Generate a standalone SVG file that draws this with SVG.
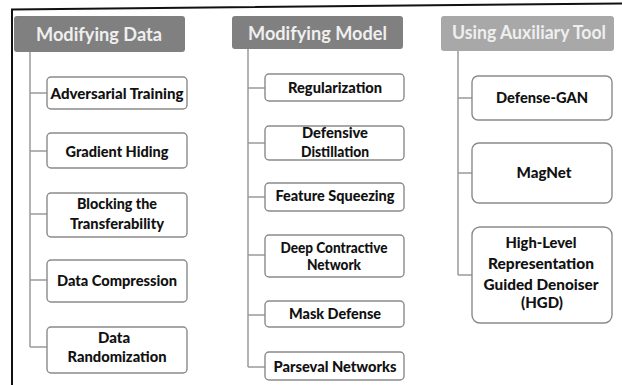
<svg xmlns="http://www.w3.org/2000/svg" width="622" height="385" viewBox="0 0 622 385">
  <style>
    .frame { fill: none; stroke: #111; stroke-width: 2; }
    .head { fill: #808080; }
    .head.light { fill: #a8a8a8; }
    .htxt { font-family: Lato, "Open Sans", "Liberation Sans", sans-serif; font-weight: bold; font-size: 19.5px; fill: #efefef; text-anchor: middle; }
    .box { fill: #ffffff; stroke: #8a8a8a; stroke-width: 1.4; }
    .txt { font-family: Lato, "Open Sans", "Liberation Sans", sans-serif; font-weight: 900; font-size: 15px; fill: #111; text-anchor: middle; }
    .conn { fill: none; stroke: #9a9a9a; stroke-width: 1.5; }
  </style>

  <rect width="622" height="385" fill="#ffffff"/>
  <path class="frame" d="M12 385 L12 9.5 L622 3.5"/>

  <!-- connectors -->
  <g id="connectors">
    <path class="conn" d="M30 52 V347 M30 93 H47 M30 151 H47 M30 214 H47 M30 280 H47 M30 347 H47"/>
    <path class="conn" d="M248 49 V367 M248 88 H265 M248 143 H265 M248 197 H265 M248 255 H265 M248 315 H265 M248 367 H265"/>
    <path class="conn" d="M458 51 V275 M458 98 H472 M458 173 H472 M458 275 H472"/>
  </g>

  <!-- column: modifying data -->
  <g id="modifying-data">
    <rect class="head" x="14" y="16" width="171" height="36" rx="3"/>
    <text class="htxt" x="99" y="41" textLength="126" lengthAdjust="spacingAndGlyphs">Modifying Data</text>
  </g>
  <g id="adversarial-training">
    <rect class="box" x="47" y="77" width="140" height="32" rx="4"/>
    <text class="txt" x="117" y="99" textLength="133" lengthAdjust="spacingAndGlyphs">Adversarial Training</text>
  </g>
  <g id="gradient-hiding">
    <rect class="box" x="47" y="133" width="140" height="35" rx="4"/>
    <text class="txt" x="117" y="157" textLength="103" lengthAdjust="spacingAndGlyphs">Gradient Hiding</text>
  </g>
  <g id="blocking-transferability">
    <rect class="box" x="47" y="193" width="140" height="44" rx="4"/>
    <text class="txt" x="117" y="209" textLength="80" lengthAdjust="spacingAndGlyphs">Blocking the</text>
    <text class="txt" x="117" y="229" textLength="94" lengthAdjust="spacingAndGlyphs">Transferability</text>
  </g>
  <g id="data-compression">
    <rect class="box" x="47" y="260" width="140" height="42" rx="4"/>
    <text class="txt" x="117" y="286" textLength="120" lengthAdjust="spacingAndGlyphs">Data Compression</text>
  </g>
  <g id="data-randomization">
    <rect class="box" x="47" y="327" width="140" height="46" rx="4"/>
    <text class="txt" x="114" y="343">Data</text>
    <text class="txt" x="117" y="362" textLength="99" lengthAdjust="spacingAndGlyphs">Randomization</text>
  </g>

  <!-- column: modifying model -->
  <g id="modifying-model">
    <rect class="head" x="232" y="16" width="171" height="33" rx="3"/>
    <text class="htxt" x="317.5" y="40" textLength="139" lengthAdjust="spacingAndGlyphs">Modifying Model</text>
  </g>
  <g id="regularization">
    <rect class="box" x="265" y="74" width="139" height="27" rx="4"/>
    <text class="txt" x="335" y="93" textLength="94" lengthAdjust="spacingAndGlyphs">Regularization</text>
  </g>
  <g id="defensive-distillation">
    <rect class="box" x="265" y="126" width="139" height="34" rx="4"/>
    <text class="txt" x="335" y="138" textLength="66" lengthAdjust="spacingAndGlyphs">Defensive</text>
    <text class="txt" x="335" y="157" textLength="68" lengthAdjust="spacingAndGlyphs">Distillation</text>
  </g>
  <g id="feature-squeezing">
    <rect class="box" x="265" y="183" width="139" height="28" rx="4"/>
    <text class="txt" x="335" y="201" textLength="119" lengthAdjust="spacingAndGlyphs">Feature Squeezing</text>
  </g>
  <g id="deep-contractive-network">
    <rect class="box" x="265" y="235" width="139" height="42" rx="4"/>
    <text class="txt" x="334" y="253" textLength="107" lengthAdjust="spacingAndGlyphs">Deep Contractive</text>
    <text class="txt" x="334" y="270" textLength="54" lengthAdjust="spacingAndGlyphs">Network</text>
  </g>
  <g id="mask-defense">
    <rect class="box" x="265" y="301" width="139" height="26" rx="4"/>
    <text class="txt" x="335" y="319" textLength="92" lengthAdjust="spacingAndGlyphs">Mask Defense</text>
  </g>
  <g id="parseval-networks">
    <rect class="box" x="265" y="352" width="139" height="28" rx="4"/>
    <text class="txt" x="335" y="372" textLength="123" lengthAdjust="spacingAndGlyphs">Parseval Networks</text>
  </g>

  <!-- column: auxiliary tool -->
  <g id="using-auxiliary-tool">
    <rect class="head light" x="441" y="16" width="173" height="35" rx="3"/>
    <text class="htxt" x="529" y="39" textLength="154" lengthAdjust="spacingAndGlyphs">Using Auxiliary Tool</text>
  </g>
  <g id="defense-gan">
    <rect class="box" x="472" y="76" width="140" height="44" rx="6"/>
    <text class="txt" x="542" y="103" textLength="92" lengthAdjust="spacingAndGlyphs">Defense-GAN</text>
  </g>
  <g id="magnet">
    <rect class="box" x="472" y="143" width="140" height="60" rx="7"/>
    <text class="txt" x="544" y="178" textLength="55" lengthAdjust="spacingAndGlyphs">MagNet</text>
  </g>
  <g id="hgd">
    <rect class="box" x="472" y="227" width="140" height="96" rx="8"/>
    <text class="txt" x="541" y="248" textLength="71" lengthAdjust="spacingAndGlyphs">High-Level</text>
    <text class="txt" x="541" y="269" textLength="106" lengthAdjust="spacingAndGlyphs">Representation</text>
    <text class="txt" x="541" y="290" textLength="115" lengthAdjust="spacingAndGlyphs">Guided Denoiser</text>
    <text class="txt" x="542" y="308">(HGD)</text>
  </g>
</svg>
